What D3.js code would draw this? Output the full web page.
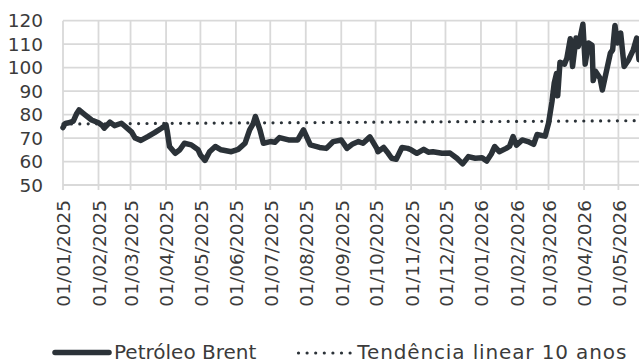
<!DOCTYPE html>
<html>
<head>
<meta charset="utf-8">
<script src="https://cdn.jsdelivr.net/npm/d3@7"></script>
<style>
  html, body { margin: 0; padding: 0; background: #ffffff; }
  svg { display: block; font-family: "DejaVu Sans", sans-serif; }
</style>
</head>
<body>
<svg id="chart" width="639" height="362"></svg>
<script>
// ---- data ----
const dates = [
  "2025-01-01","2025-01-03","2025-01-07","2025-01-10","2025-01-13","2025-01-15","2025-01-20","2025-01-26",
  "2025-02-01","2025-02-04","2025-02-06","2025-02-11","2025-02-15","2025-02-21","2025-02-26",
  "2025-03-02","2025-03-05","2025-03-10","2025-03-16","2025-03-22","2025-03-28",
  "2025-04-01","2025-04-02","2025-04-04","2025-04-09","2025-04-13","2025-04-17","2025-04-23","2025-04-29",
  "2025-05-01","2025-05-05","2025-05-09","2025-05-14","2025-05-19","2025-05-28",
  "2025-06-03","2025-06-09","2025-06-13","2025-06-16","2025-06-18","2025-06-22","2025-06-25",
  "2025-07-01","2025-07-05","2025-07-09","2025-07-17","2025-07-25","2025-07-30",
  "2025-08-05","2025-08-13","2025-08-19","2025-08-25",
  "2025-09-01","2025-09-06","2025-09-11","2025-09-16","2025-09-20","2025-09-26",
  "2025-10-02","2025-10-03","2025-10-08","2025-10-12","2025-10-15","2025-10-19","2025-10-24","2025-10-29",
  "2025-11-01","2025-11-06","2025-11-12","2025-11-16","2025-11-20","2025-11-28",
  "2025-12-05","2025-12-11","2025-12-16","2025-12-21","2025-12-27",
  "2026-01-02","2026-01-06","2026-01-10","2026-01-13","2026-01-17","2026-01-23","2026-01-26","2026-01-29",
  "2026-02-01","2026-02-06","2026-02-11","2026-02-16","2026-02-19","2026-02-26",
  "2026-03-01","2026-03-04","2026-03-06","2026-03-08","2026-03-09","2026-03-11","2026-03-15","2026-03-17",
  "2026-03-20","2026-03-22","2026-03-25","2026-03-27","2026-03-31",
  "2026-04-02","2026-04-05","2026-04-08","2026-04-09","2026-04-11","2026-04-15","2026-04-17","2026-04-21",
  "2026-04-24","2026-04-26","2026-04-28","2026-04-30",
  "2026-05-03","2026-05-06","2026-05-10","2026-05-14","2026-05-17","2026-05-19"
];
const brent = [
  74.5,76.2,76.6,77.2,80.5,82.0,80.0,77.7,
  76.5,75.5,74.2,76.8,75.3,76.3,74.2,
  72.5,70.0,69.0,70.6,72.3,74.2,
  75.6,73.0,66.4,63.5,65.0,67.8,67.1,65.0,
  62.8,60.5,64.2,66.4,65.0,64.2,
  65.2,67.8,73.5,76.0,79.2,73.5,67.8,
  68.5,68.2,70.2,69.2,69.2,73.5,
  67.1,66.0,65.6,68.5,
  69.2,65.6,67.5,68.5,67.8,70.5,
  65.6,64.2,66.0,63.5,61.4,61.0,66.0,65.6,
  65.0,63.5,65.2,64.0,64.2,63.5,
  63.6,61.4,59.0,62.1,61.4,
  61.6,60.2,63.2,66.4,64.2,65.6,66.5,70.6,
  67.0,69.2,68.5,67.3,71.5,70.8,
  76.3,85.5,93.5,97.5,88.0,102.3,101.5,104.0,
  112.3,100.5,112.6,109.0,118.5,
  101.5,110.5,109.5,94.5,98.5,95.5,90.5,99.5,
  106.2,107.6,118.0,110.5,
  114.7,100.5,103.4,107.6,112.6,103.4
];
const trendDates = ["2025-01-01","2026-05-19"];
const trendValues = [76.0, 77.4];
const yTicks = [50,60,70,80,90,100,110,120];
const seriesNames = ["Petróleo Brent","Tendência linear 10 anos"];

// ---- setup ----
const parse = d3.timeParse("%Y-%m-%d");
const series = dates.map((d,i)=>({date: parse(d), value: brent[i]}));
const trend = trendDates.map((d,i)=>({date: parse(d), value: trendValues[i]}));

const svg = d3.select("#chart");
const plotL = 63, plotR = 639, plotT = 20.7, plotB = 185;

const x = d3.scaleTime().domain([parse("2025-01-01"), parse("2026-05-19")]).range([plotL, plotR]);
const y = d3.scaleLinear().domain([50,120]).range([plotB, plotT]);

const gridColor = "#d9d9d9";
const lineColor = "#2b3238";
const textColor = "#3b3b3b";

// horizontal grid
svg.append("g").selectAll("line").data(yTicks).join("line")
  .attr("x1", plotL).attr("x2", plotR)
  .attr("y1", d=>y(d)).attr("y2", d=>y(d))
  .attr("stroke", gridColor).attr("stroke-width", 1.8);

// vertical grid + tick marks
const months = d3.timeMonth.range(parse("2025-01-01"), parse("2026-05-02"));
svg.append("g").selectAll("line").data(months).join("line")
  .attr("x1", d=>x(d)).attr("x2", d=>x(d))
  .attr("y1", plotT).attr("y2", plotB + 5)
  .attr("stroke", gridColor).attr("stroke-width", 1.8);

// y labels
svg.append("g").selectAll("text").data(yTicks).join("text")
  .attr("x", 43).attr("y", d=>y(d))
  .attr("dy", "0.36em")
  .attr("text-anchor", "end")
  .attr("font-size", 18.5)
  .attr("fill", textColor)
  .text(d=>d);

// x labels
const fmt = d3.timeFormat("%d/%m/%Y");
svg.append("g").selectAll("text").data(months).join("text")
  .attr("transform", d=>`translate(${x(d)},200) rotate(-90)`)
  .attr("text-anchor", "end")
  .attr("dy", "0.4em")
  .attr("font-size", 18.5)
  .attr("fill", textColor)
  .text(d=>fmt(d));

// trend line (dotted)
const lineGen = d3.line().x(d=>x(d.date)).y(d=>y(d.value));
svg.append("path").datum(trend)
  .attr("d", lineGen)
  .attr("fill", "none")
  .attr("stroke", lineColor)
  .attr("stroke-width", 3.2)
  .attr("stroke-linecap", "round")
  .attr("stroke-dasharray", "0,8.4");

// brent line
svg.append("path").datum(series)
  .attr("d", lineGen)
  .attr("fill", "none")
  .attr("stroke", lineColor)
  .attr("stroke-width", 5.5)
  .attr("stroke-linejoin", "round")
  .attr("stroke-linecap", "round");

// legend
const lg = svg.append("g");
lg.append("line").attr("x1", 55).attr("x2", 109).attr("y1", 352.5).attr("y2", 352.5)
  .attr("stroke", lineColor).attr("stroke-width", 5.5).attr("stroke-linecap", "round");
lg.append("text").attr("x", 114).attr("y", 358.5)
  .attr("font-size", 20).attr("fill", textColor).text(seriesNames[0]);
lg.append("line").attr("x1", 298.5).attr("x2", 351).attr("y1", 353).attr("y2", 353)
  .attr("stroke", lineColor).attr("stroke-width", 3.2).attr("stroke-linecap", "round")
  .attr("stroke-dasharray", "0,8.6");
lg.append("text").attr("x", 357.3).attr("y", 358.5)
  .attr("font-size", 20).attr("fill", textColor)
  .attr("textLength", 269).attr("lengthAdjust", "spacing")
  .text(seriesNames[1]);
</script>
</body>
</html>
